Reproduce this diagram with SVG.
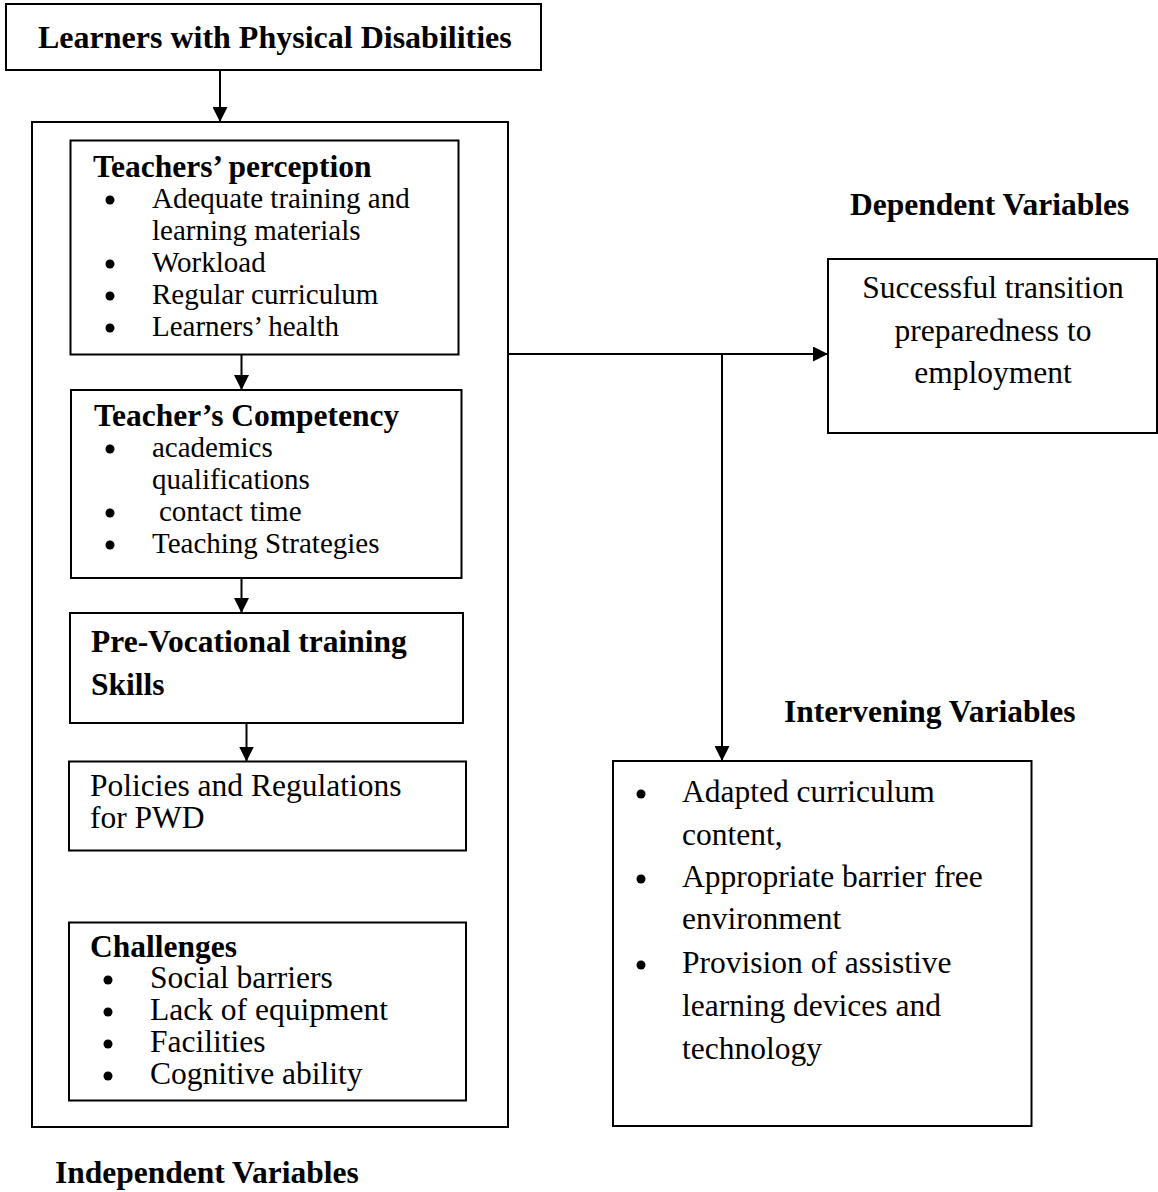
<svg xmlns="http://www.w3.org/2000/svg" width="1158" height="1192" viewBox="0 0 1158 1192">
  <style>
    .box { fill: #fff; stroke: #000; stroke-width: 2; }
    .t { font-family: "Liberation Serif", "Times New Roman", serif; fill: #000; }
    .b { font-weight: bold; font-size: 31.5px; }
    .r { font-size: 31.5px; }
    .s { font-size: 29px; }
    .dot { fill: #000; }
    .line { stroke: #000; stroke-width: 2; fill: none; }
  </style>
  <defs>
    <marker id="arrow" markerUnits="userSpaceOnUse" markerWidth="15" markerHeight="15" refX="15" refY="7.5" orient="auto">
      <path d="M0,0 L15,7.5 L0,15 Z" fill="#000"/>
    </marker>
  </defs>
  <rect width="1158" height="1192" fill="#fff"/>

  <g id="outer-independent">
    <rect class="box" x="32" y="122" width="476" height="1005"/>
  </g>

  <g id="learners">
    <rect class="box" x="6" y="4" width="535" height="66"/>
    <text class="t b" x="38" y="48" style="font-size:32px">Learners with Physical Disabilities</text>
  </g>

  <g id="teachers-perception">
    <rect class="box" x="70.5" y="140.5" width="388" height="214"/>
    <text class="t b" x="93" y="177">Teachers’ perception</text>
    <circle class="dot" cx="110" cy="200" r="4.5"/>
    <text class="t s" x="152" y="208">Adequate training and</text>
    <text class="t s" x="152" y="240">learning materials</text>
    <circle class="dot" cx="110" cy="264" r="4.5"/>
    <text class="t s" x="152" y="272">Workload</text>
    <circle class="dot" cx="110" cy="296" r="4.5"/>
    <text class="t s" x="152" y="304">Regular curriculum</text>
    <circle class="dot" cx="110" cy="328" r="4.5"/>
    <text class="t s" x="152" y="336">Learners’ health</text>
  </g>

  <g id="teachers-competency">
    <rect class="box" x="71" y="390" width="390.5" height="188"/>
    <text class="t b" x="94" y="426">Teacher’s Competency</text>
    <circle class="dot" cx="110" cy="449" r="4.5"/>
    <text class="t s" x="152" y="457">academics</text>
    <text class="t s" x="152" y="489">qualifications</text>
    <circle class="dot" cx="110" cy="513" r="4.5"/>
    <text class="t s" x="159" y="521">contact time</text>
    <circle class="dot" cx="110" cy="545" r="4.5"/>
    <text class="t s" x="152" y="553">Teaching Strategies</text>
  </g>

  <g id="pre-vocational">
    <rect class="box" x="70" y="613" width="393" height="110"/>
    <text class="t b" x="91" y="652">Pre-Vocational training</text>
    <text class="t b" x="91" y="695">Skills</text>
  </g>

  <g id="policies">
    <rect class="box" x="69" y="761.5" width="397" height="89"/>
    <text class="t r" x="90" y="796">Policies and Regulations</text>
    <text class="t r" x="90" y="828">for PWD</text>
  </g>

  <g id="challenges">
    <rect class="box" x="69" y="922.5" width="397" height="178"/>
    <text class="t b" x="90" y="957">Challenges</text>
    <circle class="dot" cx="108" cy="980" r="4.5"/>
    <text class="t r" x="150" y="988">Social barriers</text>
    <circle class="dot" cx="108" cy="1012" r="4.5"/>
    <text class="t r" x="150" y="1020">Lack of equipment</text>
    <circle class="dot" cx="108" cy="1044" r="4.5"/>
    <text class="t r" x="150" y="1052">Facilities</text>
    <circle class="dot" cx="108" cy="1076" r="4.5"/>
    <text class="t r" x="150" y="1084">Cognitive ability</text>
  </g>

  <g id="independent-label">
    <text class="t b" x="55" y="1183">Independent Variables</text>
  </g>

  <g id="dependent">
    <text class="t b" x="850" y="215">Dependent Variables</text>
    <rect class="box" x="828" y="259" width="329" height="174"/>
    <text class="t r" x="993" y="298" text-anchor="middle">Successful transition</text>
    <text class="t r" x="993" y="341" text-anchor="middle">preparedness to</text>
    <text class="t r" x="993" y="383" text-anchor="middle">employment</text>
  </g>

  <g id="intervening">
    <text class="t b" x="784" y="722">Intervening Variables</text>
    <rect class="box" x="613" y="761" width="418.5" height="365"/>
    <circle class="dot" cx="641" cy="794" r="4.5"/>
    <text class="t r" x="682" y="802">Adapted curriculum</text>
    <text class="t r" x="682" y="845">content,</text>
    <circle class="dot" cx="641" cy="879" r="4.5"/>
    <text class="t r" x="682" y="887">Appropriate barrier free</text>
    <text class="t r" x="682" y="929">environment</text>
    <circle class="dot" cx="641" cy="965" r="4.5"/>
    <text class="t r" x="682" y="973">Provision of assistive</text>
    <text class="t r" x="682" y="1016">learning devices and</text>
    <text class="t r" x="682" y="1059">technology</text>
  </g>

  <g id="connectors">
    <line class="line" x1="220" y1="70" x2="220" y2="122" marker-end="url(#arrow)"/>
    <line class="line" x1="241.5" y1="354.5" x2="241.5" y2="390" marker-end="url(#arrow)"/>
    <line class="line" x1="241.5" y1="578" x2="241.5" y2="613" marker-end="url(#arrow)"/>
    <line class="line" x1="246.5" y1="723" x2="246.5" y2="761.5" marker-end="url(#arrow)"/>
    <line class="line" x1="508" y1="354" x2="828" y2="354" marker-end="url(#arrow)"/>
    <line class="line" x1="722" y1="354" x2="722" y2="761" marker-end="url(#arrow)"/>
  </g>
</svg>
